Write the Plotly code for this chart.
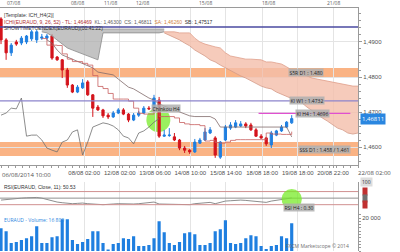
import plotly.graph_objects as go

# ---------------- data ----------------
idx = list(range(58))
opens = [1.4966,1.4906,1.4869,1.4900,1.4897,1.4900,1.4909,1.4906,1.4911,1.4911,
         1.4917,1.4857,1.4849,1.4820,1.4777,1.4757,1.4769,1.4786,1.4749,1.4714,
         1.4706,1.4691,1.4686,1.4697,1.4706,1.4694,1.4677,1.4691,1.4697,1.4711,
         1.4711,1.4734,1.4631,1.4633,1.4629,1.4620,1.4597,1.4591,1.4586,1.4611,
         1.4620,1.4640,1.4626,1.4571,1.4620,1.4654,1.4657,1.4660,1.4666,1.4663,
         1.4649,1.4631,1.4626,1.4606,1.4634,1.4646,1.4657,1.4669]
highs = [1.4971,1.4911,1.4897,1.4906,1.4917,1.4920,1.4934,1.4934,1.4923,1.4923,
         1.4923,1.4860,1.4851,1.4826,1.4780,1.4777,1.4794,1.4791,1.4751,1.4720,
         1.4709,1.4697,1.4703,1.4711,1.4711,1.4697,1.4697,1.4703,1.4717,1.4717,
         1.4749,1.4743,1.4649,1.4654,1.4640,1.4623,1.4603,1.4594,1.4623,1.4626,
         1.4654,1.4657,1.4631,1.4617,1.4663,1.4671,1.4677,1.4674,1.4671,1.4669,
         1.4654,1.4637,1.4629,1.4646,1.4649,1.4663,1.4674,1.4691]
lows = [1.4894,1.4849,1.4860,1.4889,1.4891,1.4894,1.4903,1.4897,1.4906,1.4906,
        1.4849,1.4846,1.4797,1.4769,1.4754,1.4754,1.4766,1.4746,1.4686,1.4703,
        1.4683,1.4680,1.4683,1.4694,1.4691,1.4671,1.4674,1.4686,1.4694,1.4706,
        1.4706,1.4626,1.4629,1.4629,1.4617,1.4591,1.4583,1.4580,1.4583,1.4609,
        1.4617,1.4637,1.4569,1.4566,1.4617,1.4649,1.4654,1.4657,1.4654,1.4646,
        1.4629,1.4623,1.4603,1.4597,1.4631,1.4643,1.4654,1.4666]
closes = [1.4906,1.4869,1.4891,1.4894,1.4911,1.4917,1.4929,1.4929,1.4914,1.4917,
          1.4854,1.4849,1.4820,1.4777,1.4757,1.4771,1.4783,1.4749,1.4711,1.4706,
          1.4689,1.4686,1.4697,1.4706,1.4694,1.4677,1.4691,1.4697,1.4711,1.4709,
          1.4740,1.4631,1.4634,1.4634,1.4620,1.4597,1.4591,1.4586,1.4614,1.4620,
          1.4643,1.4649,1.4577,1.4614,1.4657,1.4663,1.4669,1.4666,1.4660,1.4649,
          1.4631,1.4626,1.4609,1.4640,1.4646,1.4657,1.4671,1.46811]
volumes = [13800,12000,4800,5400,6600,7800,9000,15000,4800,4800,
           8400,9000,19200,19200,6600,4200,5400,7200,12000,12000,
           4800,600,4200,4800,7800,7200,9000,3000,3000,3600,
           7800,18000,11400,4800,3600,5400,10800,11400,10200,3600,
           3600,4800,12000,13200,18600,4800,4200,4800,7800,9600,
           9000,3000,1200,3000,3600,9000,7800,16800]
rsi = [44,46,47,49,50,51,52,52,50,46,41,38,36,34,33,34,35,33,31,31,
       30,30,32,33,32,31,32,33,35,35,38,32,32,32,31,30,30,30,33,34,
       36,37,33,37,41,42,44,44,43,41,39,38,37,41,43,45,47,50.5]

tenkan_idx = list(range(8, 58))
tenkan = [1.4910,1.4891,1.4891,1.4890,1.4866,1.4851,1.4844,1.4844,1.4839,1.4834,
          1.4804,1.4773,1.4767,1.4753,1.4737,1.4737,1.4737,1.4731,1.4711,1.4696,
          1.4694,1.4694,1.4710,1.4687,1.4687,1.4687,1.4683,1.4670,1.4666,1.4664,
          1.4664,1.4661,1.4617,1.4619,1.4613,1.4611,1.4614,1.4619,1.4621,1.4621,
          1.4621,1.4621,1.4621,1.4621,1.4640,1.4637,1.4637,1.4636,1.4636,1.4644]
kijun_idx = list(range(9, 58))
kijun = [1.4906,1.4897,1.4877,1.4863,1.4857,1.4851,1.4846,1.4840,1.4834,1.4826,
         1.4814,1.4811,1.4809,1.4806,1.4794,1.4783,1.4771,1.4766,1.4757,1.4749,
         1.4740,1.4734,1.4723,1.4717,1.4711,1.4706,1.4700,1.4694,1.4689,1.4687,
         1.4687,1.4687,1.4687,1.4680,1.4657,1.4657,1.4657,1.4657,1.4657,1.4657,
         1.4657,1.4657,1.4657,1.4657,1.4657,1.4657,1.4657,1.4657,1.4629]
chikou_idx = list(range(0, 32))
chikou = closes[26:58]

grey_idx = list(range(8, 33))
grey_top = [1.4937] * 25
grey_bot = [1.4929,1.4926,1.4917,1.4906,1.4894,1.4883,1.4877,1.4871,1.4866,1.4860,
            1.4854,1.4849,1.4926,1.4926,1.4926,1.4926,1.4926,1.4926,1.4926,1.4926,
            1.4926,1.4926,1.4926,1.4926,1.4929]
salmon_idx = list(range(32, 71))
salmon_top = [1.4929,1.4929,1.4929,1.4926,1.4926,1.4926,1.4911,1.4900,1.4894,1.4889,
              1.4886,1.4883,1.4869,1.4860,1.4857,1.4854,1.4851,1.4851,1.4849,1.4849,
              1.4843,1.4843,1.4840,1.4837,1.4829,1.4820,1.4814,1.4811,1.4803,1.4797,
              1.4794,1.4791,1.4789,1.4786,1.4783,1.4780,1.4777,1.4774,1.4774]
salmon_bot = [1.4926,1.4920,1.4914,1.4906,1.4897,1.4889,1.4877,1.4869,1.4860,1.4849,
              1.4843,1.4834,1.4826,1.4817,1.4809,1.4803,1.4797,1.4789,1.4783,1.4774,
              1.4769,1.4766,1.4757,1.4751,1.4743,1.4737,1.4731,1.4726,1.4714,1.4703,
              1.4694,1.4683,1.4674,1.4663,1.4654,1.4649,1.4640,1.4637,1.4640]

top_line = 1.4943
kiw1 = 1.4732
kih4 = 1.4696
ssr_band = (1.4800, 1.4826)
sss_band = (1.4574, 1.4614)

bottom_tick_pos = [16.3, 23.3, 30.2, 37.1, 44.1, 51.2, 58.2, 65.1]
bottom_tick_txt = ["08/08 02:00", "12/08 02:00", "13/08 06:00", "14/08 10:00",
                   "15/08 14:00", "18/08 18:00", "19/08 18:00", "20/08 22:00"]
top_tick_pos = [2.4, 14.9, 21.4, 27.8, 40.0, 52.4, 65.1]
top_tick_txt = ["07/08", "08/08", "11/08", "12/08", "15/08", "18/08", "21/08"]

price_ticks = [1.46, 1.47, 1.48, 1.49]
price_labels = ["1,4600", "1,4700", "1,4800", "1,4900"]

# ---------------- figure ----------------
UP = "#1f7fe0"
DN = "#d4141c"
fig = go.Figure()

fig.add_trace(go.Scatter(x=grey_idx, y=grey_top, mode="lines",
                         line=dict(color="#9a9a9a", width=0.8), hoverinfo="skip"))
fig.add_trace(go.Scatter(x=grey_idx, y=grey_bot, mode="lines", fill="tonexty",
                         fillcolor="rgba(175,175,175,0.75)",
                         line=dict(color="#8a8a8a", width=0.8), hoverinfo="skip"))
fig.add_trace(go.Scatter(x=salmon_idx, y=salmon_top, mode="lines",
                         line=dict(color="#e0a08c", width=0.8), hoverinfo="skip"))
fig.add_trace(go.Scatter(x=salmon_idx, y=salmon_bot, mode="lines", fill="tonexty",
                         fillcolor="rgba(244,190,170,0.8)",
                         line=dict(color="#d49a88", width=0.8), hoverinfo="skip"))

fig.add_trace(go.Scatter(x=chikou_idx, y=chikou, mode="lines",
                         line=dict(color="#707070", width=0.8), hoverinfo="skip"))
fig.add_trace(go.Scatter(x=kijun_idx, y=kijun, mode="lines",
                         line=dict(color="#806a6a", width=0.8), hoverinfo="skip"))
fig.add_trace(go.Scatter(x=tenkan_idx, y=tenkan, mode="lines",
                         line=dict(color="#c86060", width=0.8, shape="hv"), hoverinfo="skip"))

fig.add_trace(go.Candlestick(x=idx, open=opens, high=highs, low=lows, close=closes,
                             increasing=dict(line=dict(color=UP, width=1), fillcolor=UP),
                             decreasing=dict(line=dict(color=DN, width=1), fillcolor=DN),
                             whiskerwidth=0, hoverinfo="skip"))

fig.add_trace(go.Scatter(x=idx, y=rsi, mode="lines", yaxis="y2",
                         line=dict(color="#707070", width=0.8), hoverinfo="skip"))
fig.add_trace(go.Bar(x=idx, y=volumes, yaxis="y3", marker_color=UP,
                     marker_line_width=0, width=0.62, hoverinfo="skip"))

shapes = []
for lo, hi in (ssr_band, sss_band):
    shapes.append(dict(type="rect", xref="x domain", yref="y", x0=0, x1=1, y0=lo, y1=hi,
                       fillcolor="rgba(248,150,85,0.72)", line_width=0, layer="below"))
shapes.append(dict(type="line", xref="x domain", yref="y", x0=0, x1=1, y0=top_line, y1=top_line,
                   line=dict(color="#4a4aa0", width=1.5)))
shapes.append(dict(type="line", xref="x domain", yref="y", x0=0, x1=1, y0=kiw1, y1=kiw1,
                   line=dict(color="#8c84cc", width=1.3)))
shapes.append(dict(type="line", xref="x", yref="y", x0=50.5, x1=68.5, y0=kih4, y1=kih4,
                   line=dict(color="#e050d0", width=1.2)))
for lvl, col in ((70, "#d09090"), (50, "#909090"), (30, "#d09090")):
    shapes.append(dict(type="line", xref="x domain", yref="y2", x0=0, x1=1, y0=lvl, y1=lvl,
                       line=dict(color=col, width=1)))
shapes.append(dict(type="circle", xref="x", yref="y", x0=28.5, x1=33.2, y0=1.4643, y1=1.4712,
                   fillcolor="rgba(120,235,40,0.75)", line_width=0, layer="below"))
shapes.append(dict(type="circle", xref="x", yref="y2", x0=55.0, x1=59.0, y0=17, y1=78,
                   fillcolor="rgba(120,235,40,0.75)", line_width=0))

GRID = "#e4e4e4"
AX = "#9a9a9a"
fnt = dict(family="Arial, Liberation Sans", size=6, color="#505050")

fig.update_layout(
    width=400, height=252, margin=dict(l=0, r=42, t=8, b=1),
    paper_bgcolor="white", plot_bgcolor="white", showlegend=False,
    boxgap=0.38,
    shapes=shapes,
    xaxis=dict(range=[-0.2, 70], tickmode="array", tickvals=bottom_tick_pos,
               ticktext=bottom_tick_txt, tickfont=fnt, showgrid=True, gridcolor=GRID,
               gridwidth=1, zeroline=False, showline=True, linecolor=AX, mirror=True,
               ticks="outside", ticklen=2, tickcolor=AX, anchor="y",
               rangeslider=dict(visible=False), fixedrange=True,
               minor=dict(ticks="outside", ticklen=2, tickcolor=AX, dtick=1.4, showgrid=False)),
    yaxis=dict(domain=[0.3539, 1.0], range=[1.45486, 1.49971], side="right",
               tickmode="array", tickvals=price_ticks, ticktext=price_labels,
               tickfont=fnt, showgrid=True, gridcolor=GRID, zeroline=False,
               showline=True, linecolor=AX, mirror=True, ticks="outside", ticklen=3,
               tickcolor=AX,
               minor=dict(ticks="outside", ticklen=2, tickcolor=AX, dtick=0.002, showgrid=False)),
    yaxis2=dict(domain=[0.1502, 0.285], range=[0, 100], side="right", anchor="x",
                tickmode="array", tickvals=[], showgrid=False, zeroline=False,
                showline=True, linecolor=AX, mirror=True),
    yaxis3=dict(domain=[0.0, 0.1502], range=[0, 22121], side="right", anchor="x",
                tickmode="array", tickvals=[0, 20000], ticktext=["0", "20 000"],
                tickfont=fnt, showgrid=False, zeroline=False, showline=True,
                linecolor=AX, mirror=True, ticks="outside", ticklen=2, tickcolor=AX,
                minor=dict(ticks="outside", ticklen=1.5, tickcolor=AX, dtick=2000)),
)

ann = []
small = dict(family="Arial, Liberation Sans", size=5, color="#333333")
for p, t in zip(top_tick_pos, top_tick_txt):
    ann.append(dict(x=p, y=1.0, xref="x", yref="paper", text=t, showarrow=False,
                    yanchor="bottom", yshift=0, font=dict(size=5, color="#606060")))
ann.append(dict(x=0, y=1.0, xref="paper", yref="paper", xanchor="left", yanchor="top",
                text="06/08/2014 10:00", showarrow=False, yshift=-161,
                font=dict(size=6, color="#505050")))
ann.append(dict(x=1.0, y=0.3539, xref="paper", yref="paper", xanchor="left", yanchor="top",
                text="22/08 02:00", showarrow=False, yshift=-2, xshift=-2,
                font=dict(size=6, color="#505050")))
hdr = ("[Template: ICH_H4(2)]<br>"
       "<span style='color:#b03030'>ICHI(EURAUD, 9, 26, 52) - TL: 1,46469</span>"
       "<span style='color:#606060'>  KL: 1,46300  CS: 1,46811</span>"
       "<span style='color:#d08040'>  SA: 1,46260</span>"
       "<span style='color:#303030'>  SB: 1,47517</span><br>"
       "SHOWTIMETOENDEX(EURAUD)(00:41:22)")
ann.append(dict(x=0.005, y=0.99, xref="paper", yref="paper", xanchor="left", yanchor="top",
                align="left", text=hdr, showarrow=False, font=small))

def lbl(x, y, t, yref="y"):
    ann.append(dict(x=x, y=y, xref="x", yref=yref, text=t, showarrow=False,
                    bgcolor="rgba(175,175,175,0.85)", borderpad=0.5,
                    font=dict(size=5, color="#222222")))
lbl(59.8, 1.4813, "S5R D1 : 1.480")
lbl(60.0, kiw1, "KI W1 : 1.4732")
lbl(61.0, kih4, "KI H4 : 1.4696")
lbl(63.5, 1.4594, "SSS D1 : 1.458 / 1.461")
lbl(32.4, 1.4710, "Chinkou H4")
lbl(58.5, 22, "RSI H4 : 0.30", yref="y2")
ann.append(dict(x=1.0, y=1.46811, xref="paper", yref="y", xanchor="left", text="1,46811",
                showarrow=False, bgcolor="#2a86e0", font=dict(size=6, color="white"),
                xshift=2, borderpad=1))
ann.append(dict(x=0.005, y=0.285, xref="paper", yref="paper", xanchor="left", yanchor="top",
                text="RSI(EURAUD, Close, 11): 50.53", showarrow=False, font=small))
ann.append(dict(x=0.005, y=0.1502, xref="paper", yref="paper", xanchor="left", yanchor="top",
                text="EURAUD - Volume: 16 800", showarrow=False,
                font=dict(size=5, color="#2a86e0")))
ann.append(dict(x=0.98, y=0.0, xref="paper", yref="paper", xanchor="right", yanchor="bottom",
                text="FXCM Marketscope © 2014", showarrow=False,
                font=dict(size=5, color="#707070")))
for lvl, col in ((70, "#c03030"), (50, "#707070"), (30, "#c03030")):
    ann.append(dict(x=1.0, y=lvl, xref="paper", yref="y2", xanchor="left", text="&nbsp;&nbsp;",
                    showarrow=False, bgcolor=col, xshift=4, font=dict(size=4)))
ann.append(dict(x=1.0, y=100, xref="paper", yref="y2", xanchor="left", text="100",
                showarrow=False, bgcolor="#dddddd", xshift=2, font=dict(size=5, color="#333")))
fig.update_layout(annotations=ann)

fig.write_html("out.html")
